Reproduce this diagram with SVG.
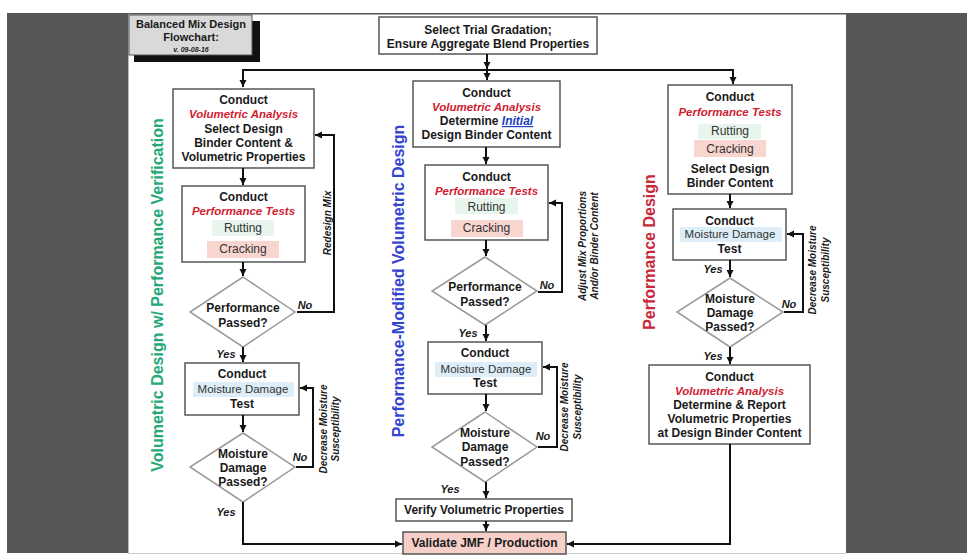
<svg xmlns="http://www.w3.org/2000/svg" width="967" height="557" viewBox="0 0 967 557">
<style>
text{font-family:"Liberation Sans",Arial,sans-serif;fill:#1a1a1a;}
.b{font-weight:bold;font-size:12px;text-anchor:middle;}
.r{font-weight:bold;font-style:italic;font-size:11.5px;fill:#d0202f;text-anchor:middle;}
.n{font-size:12px;fill:#333;text-anchor:middle;}
.m{font-size:11.5px;fill:#333;text-anchor:middle;}
.lab{font-weight:bold;font-style:italic;font-size:11px;text-anchor:middle;}
.rot{font-weight:bold;font-style:italic;font-size:10px;text-anchor:middle;}
.title{font-weight:bold;font-size:16px;text-anchor:middle;}
.box{fill:#fff;stroke:#555;stroke-width:1.5;}
.dia{fill:#fff;stroke:#999;stroke-width:1.5;}
.rut{fill:#e8f5ec;}
.crk{fill:#f9d5d0;}
.moi{fill:#ddeef8;}
.c{fill:none;stroke:#111;stroke-width:2;}
.ca{fill:none;stroke:#111;stroke-width:2;marker-end:url(#ah);}
</style>
<defs>
<marker id="ah" markerUnits="userSpaceOnUse" markerWidth="8" markerHeight="8" refX="7" refY="4" orient="auto"><path d="M0,0.5 L7,4 L0,7.5 z" fill="#111"/></marker>
</defs>
<rect width="967" height="557" fill="#fff"/>
<rect x="7" y="13" width="121" height="540" fill="#575757"/>
<rect x="846" y="13" width="121" height="540" fill="#575757"/>
<rect x="7" y="13" width="960" height="1.5" fill="#555"/>
<line x1="128.5" y1="14" x2="128.5" y2="553" stroke="#bbb" stroke-width="1"/>
<line x1="128" y1="553.5" x2="846" y2="553.5" stroke="#ccc" stroke-width="1"/>

<g id="title-box">
<rect x="134" y="21" width="126" height="41" fill="#111"/>
<rect x="129" y="15" width="123" height="40" fill="#d9d9d9" stroke="#555" stroke-width="1"/>
<text x="191" y="28" style="font-weight:bold;font-size:11px;text-anchor:middle;">Balanced Mix Design</text>
<text x="191" y="41" style="font-weight:bold;font-size:11px;text-anchor:middle;">Flowchart:</text>
<text x="191" y="52" style="font-weight:bold;font-style:italic;font-size:7px;text-anchor:middle;">v. 09-08-16</text>
</g>

<g id="vertical-titles">
<text class="title" transform="translate(163,295) rotate(-90)" style="fill:#24a878;">Volumetric Design w/ Performance Verification</text>
<text class="title" transform="translate(404,281) rotate(-90)" style="fill:#3344d0;">Performance-Modified Volumetric Design</text>
<text class="title" transform="translate(655,252) rotate(-90)" style="fill:#c8283a;">Performance Design</text>
</g>

<g id="start">
<rect class="box" x="379" y="17" width="218" height="37"/>
<text class="b" x="488" y="34">Select Trial Gradation;</text>
<text class="b" x="488" y="48">Ensure Aggregate Blend Properties</text>
</g>

<g id="L1">
<rect class="box" x="173" y="89" width="141" height="79"/>
<text class="b" x="243.5" y="104">Conduct</text>
<text class="r" x="243.5" y="118">Volumetric Analysis</text>
<text class="b" x="243.5" y="133">Select Design</text>
<text class="b" x="243.5" y="147">Binder Content &amp;</text>
<text class="b" x="243.5" y="161">Volumetric Properties</text>
</g>
<g id="L2">
<rect class="box" x="182" y="186" width="123" height="76"/>
<text class="b" x="243.5" y="201">Conduct</text>
<text class="r" x="243.5" y="215">Performance Tests</text>
<rect class="rut" x="212" y="220" width="62" height="16"/>
<text class="n" x="243" y="232">Rutting</text>
<rect class="crk" x="207" y="241" width="72" height="17"/>
<text class="n" x="243" y="253">Cracking</text>
</g>
<g id="L3">
<polygon class="dia" points="243,277 295,312 243,347 190,312"/>
<text class="b" x="243" y="312">Performance</text>
<text class="b" x="243" y="327">Passed?</text>
</g>
<g id="L4">
<rect class="box" x="185" y="363" width="114" height="52"/>
<text class="b" x="242" y="378">Conduct</text>
<rect class="moi" x="193" y="382" width="101" height="15"/>
<text class="m" x="243" y="393">Moisture Damage</text>
<text class="b" x="242" y="408">Test</text>
</g>
<g id="L5">
<polygon class="dia" points="243,433 295,467 243,502 190,467"/>
<text class="b" x="243" y="458">Moisture</text>
<text class="b" x="243" y="472">Damage</text>
<text class="b" x="243" y="486">Passed?</text>
</g>

<g id="M1">
<rect class="box" x="413" y="81" width="147" height="66"/>
<text class="b" x="486.5" y="97">Conduct</text>
<text class="r" x="486.5" y="111">Volumetric Analysis</text>
<text class="b" x="486.5" y="125">Determine <tspan style="font-style:italic;fill:#2040c0;text-decoration:underline;">Initial</tspan></text>
<text class="b" x="486.5" y="139">Design Binder Content</text>
</g>
<g id="M2">
<rect class="box" x="425" y="165" width="123" height="75"/>
<text class="b" x="486.5" y="181">Conduct</text>
<text class="r" x="486.5" y="195">Performance Tests</text>
<rect class="rut" x="455" y="198" width="63" height="16"/>
<text class="n" x="486.5" y="211">Rutting</text>
<rect class="crk" x="451" y="220" width="72" height="17"/>
<text class="n" x="486.5" y="232">Cracking</text>
</g>
<g id="M3">
<polygon class="dia" points="485,257 537,291 485,325 432,291"/>
<text class="b" x="485" y="291">Performance</text>
<text class="b" x="485" y="306">Passed?</text>
</g>
<g id="M4">
<rect class="box" x="428" y="342" width="114" height="52"/>
<text class="b" x="485" y="357">Conduct</text>
<rect class="moi" x="435" y="362" width="102" height="15"/>
<text class="m" x="486" y="373">Moisture Damage</text>
<text class="b" x="485" y="387">Test</text>
</g>
<g id="M5">
<polygon class="dia" points="485,412 537,447 485,482 432,447"/>
<text class="b" x="485" y="437">Moisture</text>
<text class="b" x="485" y="451">Damage</text>
<text class="b" x="485" y="466">Passed?</text>
</g>
<g id="M6">
<rect class="box" x="396" y="499" width="176" height="22"/>
<text class="b" x="484" y="514">Verify Volumetric Properties</text>
</g>
<g id="M7">
<rect x="403" y="532" width="163" height="22" fill="#f6cfc9" stroke="#555" stroke-width="1.5"/>
<text class="b" x="484.5" y="547">Validate JMF / Production</text>
</g>

<g id="R1">
<rect class="box" x="668" y="85" width="124" height="109"/>
<text class="b" x="730" y="101">Conduct</text>
<text class="r" x="730" y="116">Performance Tests</text>
<rect class="rut" x="698" y="124" width="63" height="15"/>
<text class="n" x="730" y="135">Rutting</text>
<rect class="crk" x="694" y="140" width="72" height="17"/>
<text class="n" x="730" y="153">Cracking</text>
<text class="b" x="730" y="173">Select Design</text>
<text class="b" x="730" y="187">Binder Content</text>
</g>
<g id="R2">
<rect class="box" x="673" y="209" width="113" height="51"/>
<text class="b" x="729.5" y="225">Conduct</text>
<rect class="moi" x="680" y="227" width="102" height="15"/>
<text class="m" x="730" y="238">Moisture Damage</text>
<text class="b" x="729.5" y="253">Test</text>
</g>
<g id="R3">
<polygon class="dia" points="730,278 783,312 730,347 677,312"/>
<text class="b" x="730" y="303">Moisture</text>
<text class="b" x="730" y="317">Damage</text>
<text class="b" x="730" y="331">Passed?</text>
</g>
<g id="R4">
<rect class="box" x="649" y="365" width="161" height="79"/>
<text class="b" x="729.5" y="381">Conduct</text>
<text class="r" x="729.5" y="395">Volumetric Analysis</text>
<text class="b" x="729.5" y="409">Determine &amp; Report</text>
<text class="b" x="729.5" y="423">Volumetric Properties</text>
<text class="b" x="729.5" y="437">at Design Binder Content</text>
</g>

<g id="connectors">
<line class="ca" x1="487" y1="54" x2="487" y2="69"/>
<line class="c" x1="242" y1="70" x2="734" y2="70"/>
<line class="ca" x1="243" y1="70" x2="243" y2="87"/>
<line class="ca" x1="487" y1="70" x2="487" y2="80"/>
<line class="ca" x1="733" y1="70" x2="733" y2="84"/>

<line class="ca" x1="243" y1="168" x2="243" y2="185"/>
<line class="ca" x1="243" y1="262" x2="243" y2="276"/>
<polyline class="ca" points="297,312 334,312 334,135 315,135"/>
<line class="ca" x1="243" y1="347" x2="243" y2="362"/>
<line class="ca" x1="243" y1="415" x2="243" y2="432"/>
<polyline class="ca" points="296,467 313,467 313,388 300,388"/>
<polyline class="ca" points="243,502 243,544 402,544"/>

<line class="ca" x1="486" y1="147" x2="486" y2="164"/>
<line class="ca" x1="486" y1="240" x2="486" y2="256"/>
<polyline class="ca" points="538,292 562,292 562,203 549,203"/>
<line class="ca" x1="486" y1="325" x2="486" y2="341"/>
<line class="ca" x1="486" y1="394" x2="486" y2="411"/>
<polyline class="ca" points="538,447 557,447 557,367 543,367"/>
<line class="ca" x1="486" y1="482" x2="486" y2="498"/>
<line class="ca" x1="486" y1="521" x2="486" y2="531"/>

<line class="ca" x1="730" y1="194" x2="730" y2="208"/>
<line class="ca" x1="730" y1="260" x2="730" y2="277"/>
<polyline class="ca" points="784,312 803,312 803,234 787,234"/>
<line class="ca" x1="730" y1="347" x2="730" y2="364"/>
<polyline class="ca" points="730,444 730,544 567,544"/>
</g>

<g id="connector-labels">
<text class="lab" x="305" y="309">No</text>
<text class="lab" x="226" y="358">Yes</text>
<text class="lab" x="300" y="461">No</text>
<text class="lab" x="226" y="516">Yes</text>
<text class="rot" transform="translate(331,223) rotate(-90)">Redesign Mix</text>
<text class="rot" transform="translate(327,429) rotate(-90)">Decrease Moisture</text>
<text class="rot" transform="translate(339,429) rotate(-90)">Susceptibility</text>

<text class="lab" x="547" y="289">No</text>
<text class="lab" x="468" y="337">Yes</text>
<text class="lab" x="543" y="440">No</text>
<text class="lab" x="450" y="493">Yes</text>
<text class="rot" transform="translate(586,246) rotate(-90)">Adjust Mix Proportions</text>
<text class="rot" transform="translate(598,246) rotate(-90)">And/or Binder Content</text>
<text class="rot" transform="translate(568,407) rotate(-90)">Decrease Moisture</text>
<text class="rot" transform="translate(581,407) rotate(-90)">Susceptibility</text>

<text class="lab" x="713" y="273">Yes</text>
<text class="lab" x="789" y="308">No</text>
<text class="lab" x="713" y="360">Yes</text>
<text class="rot" transform="translate(816,270) rotate(-90)">Decrease Moisture</text>
<text class="rot" transform="translate(829,270) rotate(-90)">Susceptibility</text>
</g>
</svg>
